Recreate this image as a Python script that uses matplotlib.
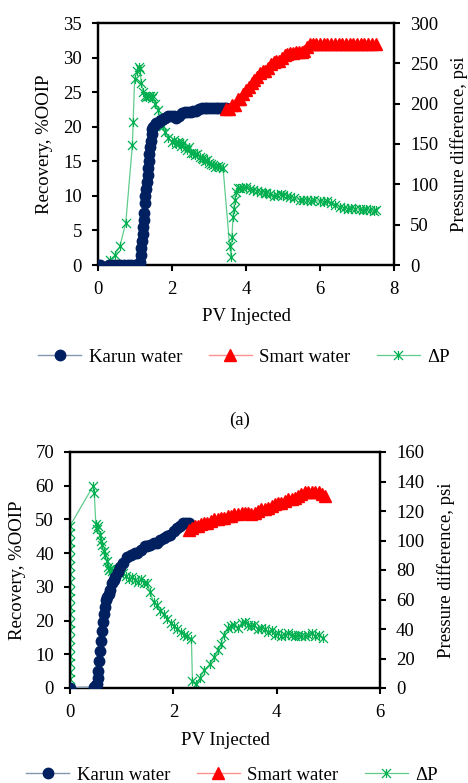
import matplotlib
matplotlib.use("Agg")
import matplotlib.pyplot as plt
from matplotlib.path import Path

plt.rcParams['font.family'] = ['Liberation Serif', 'DejaVu Serif']
plt.rcParams['font.size'] = 13.5

# ---- (a) top chart data ----
karun_a_x = [0, 0.05, 0.3, 0.4, 0.5, 0.6, 0.7, 0.8, 0.9, 1.0, 1.08, 1.13, 1.15, 1.17, 1.19, 1.21, 1.22, 1.24, 1.25, 1.27,
             1.28, 1.3, 1.32, 1.34, 1.36, 1.37, 1.39, 1.41, 1.43, 1.45, 1.47, 1.49, 1.53, 1.58, 1.64, 1.7, 1.76, 1.82, 1.9, 1.97,
             2.05, 2.12, 2.2, 2.27, 2.35, 2.42, 2.5, 2.58, 2.65, 2.72, 2.8, 2.88, 2.95, 3.03, 3.1, 3.18, 3.25, 3.33, 3.4, 3.47]
karun_a_y = [0, 0, 0, 0, 0, 0, 0, 0, 0, 0, 0, 0.5, 1.5, 2.5, 3.5, 4.5, 5.5, 6.5, 7.5, 9,
             10, 11, 12, 13, 14, 15, 16, 17, 18, 19, 19.7, 20, 20.3, 20.5, 20.7, 20.9, 21.1, 21.3, 21.5, 21.5,
             21.5, 21.2, 21.6, 22, 22.1, 22.2, 22.2, 22.3, 22.3, 22.5, 22.7, 22.7, 22.7, 22.7, 22.7, 22.7, 22.7, 22.7, 22.7, 22.7]

smart_a_x = [3.47, 3.55, 3.62, 3.7, 3.78, 3.85, 3.92, 4.0, 4.08, 4.15, 4.22, 4.3, 4.38, 4.45, 4.52, 4.6, 4.68, 4.75, 4.82, 4.9,
             4.98, 5.05, 5.12, 5.2, 5.28, 5.35, 5.42, 5.5, 5.58, 5.65, 5.72, 5.8, 5.9, 6.0, 6.1, 6.2, 6.3, 6.4, 6.5, 6.6,
             6.7, 6.8, 6.9, 7.0, 7.1, 7.2, 7.3, 7.4, 7.52]
smart_a_y = [22.5, 22.5, 23.2, 23.2, 24, 24, 24.8, 25.3, 25.8, 26.3, 26.8, 27.2, 27.7, 28, 28, 28.5, 29, 29.3, 29.5, 29.5,
             30, 30.3, 30.5, 30.7, 30.7, 30.8, 30.8, 30.8, 31, 31.5, 32, 32, 32, 32, 32, 32, 32, 32, 32, 32,
             32, 32, 32, 32, 32, 32, 32, 32, 32]

dp_a_x = [0, 0.32, 0.45, 0.59, 0.75, 0.93, 0.95, 0.99, 1.05, 1.1, 1.13, 1.17, 1.22, 1.26, 1.3, 1.35, 1.4, 1.45, 1.49, 1.55,
          1.62, 1.7, 1.76, 1.82, 1.9, 2.0, 2.05, 2.1, 2.15, 2.2, 2.25, 2.3, 2.35, 2.4, 2.45, 2.5, 2.57, 2.62, 2.68, 2.75,
          2.8, 2.84, 2.9, 2.95, 3.0, 3.05, 3.11, 3.17, 3.23, 3.3, 3.38, 3.56, 3.6, 3.62, 3.65, 3.67, 3.69, 3.73, 3.78, 3.85,
          3.92, 4.0, 4.1, 4.2, 4.3, 4.4, 4.5, 4.55, 4.65, 4.75, 4.85, 4.95, 5.0, 5.1, 5.2, 5.3, 5.45, 5.55, 5.65, 5.75,
          5.85, 6.0, 6.1, 6.2, 6.3, 6.4, 6.53, 6.65, 6.75, 6.85, 6.95, 7.07, 7.15, 7.25, 7.35, 7.45, 7.52]
dp_a_y = [0, 6, 12, 23, 52, 149, 177, 230, 240, 246, 243, 225, 215, 209, 208, 210, 209, 207, 209, 200,
          192, 180, 172, 165, 158, 153, 155, 150, 152, 151, 148, 151, 145, 143, 146, 139, 139, 136, 137, 134,
          133, 132, 129, 130, 127, 125, 124, 122, 123, 121, 120, 23, 10, 35, 60, 70, 81, 90, 95, 96,
          96, 97, 94, 93, 92, 90, 89, 89, 88, 86, 87, 88, 87, 86, 84, 83, 81, 80, 81, 79,
          80, 79, 78, 79, 77, 75, 72, 71, 70, 71, 70, 69, 68, 69, 68, 67, 68]

# ---- (b) bottom chart data ----
karun_b_x = [0, 0.47, 0.5, 0.52, 0.54, 0.55, 0.57, 0.58, 0.6, 0.62, 0.63, 0.65, 0.67, 0.7, 0.72, 0.75, 0.78, 0.82, 0.85, 0.88,
             0.92, 0.97, 1.02, 1.1, 1.18, 1.25, 1.3, 1.38, 1.45, 1.49, 1.55, 1.62, 1.69, 1.75, 1.82, 1.88, 1.94, 2.01, 2.07, 2.12,
             2.18, 2.25, 2.31]
karun_b_y = [0, 0.3, 0.8, 1.3, 3, 5, 8, 11, 14, 17, 19.5, 22, 24, 26, 27, 28, 29, 31, 32, 33,
             34.5, 36, 37, 39, 39.5, 40, 40, 41, 42, 42, 42.5, 43, 43, 44, 44.5, 45, 45.5, 46.5, 47.5, 48,
             49, 49, 49]

smart_b_x = [2.31, 2.36, 2.42, 2.48, 2.53, 2.6, 2.66, 2.72, 2.79, 2.86, 2.92, 2.98, 3.05, 3.12, 3.18, 3.25, 3.32, 3.38, 3.45, 3.51,
             3.58, 3.64, 3.7, 3.77, 3.83, 3.9, 3.96, 4.03, 4.09, 4.16, 4.22, 4.29, 4.35, 4.42, 4.48, 4.55, 4.61, 4.68, 4.74, 4.81,
             4.87, 4.93]
smart_b_y = [47, 47.5, 48, 48, 48.5, 49, 49, 49.5, 50, 50, 50.5, 50.5, 51, 51, 51.5, 51.5, 52, 52, 52, 51.5,
             52, 52.5, 53, 53, 53.5, 54, 54.5, 55, 55, 55.5, 56, 56, 56.5, 57, 57.5, 58, 58, 58, 58, 58,
             57.5, 57]

dp_b_x = [0, 0, 0, 0, 0, 0, 0, 0, 0, 0, 0, 0, 0, 0, 0, 0, 0, 0, 0, 0, 0,
          0.45, 0.47, 0.5, 0.52, 0.55, 0.58, 0.6, 0.62, 0.65, 0.68, 0.71, 0.73, 0.75, 0.78, 0.82, 0.86, 0.91, 0.96, 1.02, 1.08,
          1.14, 1.2, 1.26, 1.32, 1.38, 1.44, 1.49, 1.55, 1.62, 1.68, 1.75, 1.82, 1.88, 1.95, 2.01, 2.08, 2.14, 2.2, 2.27, 2.35,
          2.37, 2.44, 2.52, 2.6, 2.7, 2.79, 2.86, 2.92, 2.98, 3.05, 3.12, 3.18, 3.25, 3.32, 3.38, 3.44, 3.5, 3.57, 3.63, 3.7,
          3.77, 3.83, 3.9, 3.96, 4.03, 4.09, 4.16, 4.22, 4.29, 4.35, 4.42, 4.48, 4.55, 4.61, 4.68, 4.74, 4.81, 4.9]
dp_b_y = [0, 6, 11, 17, 22, 28, 33, 39, 44, 50, 55, 61, 66, 72, 77, 83, 88, 94, 99, 105, 110,
          137, 132, 111, 108, 110, 104, 100, 97, 93, 90, 86, 82, 80, 81, 79, 80, 80, 77, 78, 76,
          74, 75, 73, 72, 74, 71, 71, 65, 58, 56, 52, 50, 47, 44, 42, 40, 38, 36, 35, 33,
          5, 3, 7, 12, 16, 21, 26, 30, 36, 41, 42, 43, 41, 44, 45, 43, 42, 43, 40, 41,
          40, 38, 39, 36, 37, 35, 36, 37, 36, 35, 36, 35, 35, 36, 37, 35, 36, 34]

series_names = ['Karun water', 'Smart water', '\u0394P']

# colours
navy = '#002060'
navy_line = '#8497B0'
red = '#FF0000'
red_line = '#FF9090'
green = '#00B050'
green_line = '#60CC8C'

# asterisk marker (x with vertical stroke), like excel's star
star = Path([(-1, -1), (1, 1), (-1, 1), (1, -1), (0, -1), (0, 1)],
            [Path.MOVETO, Path.LINETO, Path.MOVETO, Path.LINETO, Path.MOVETO, Path.LINETO])


def draw_panel(rect, kx, ky, sx, sy, dx, dy, xlim, xticks, ylim, yticks, y2lim, y2ticks, ylab_pos, y2lab_pos, xlab_pos):
    ax = fig.add_axes(rect)
    ax2 = ax.twinx()
    h1, = ax.plot(kx, ky, color=navy_line, lw=1, marker='o', ms=7.5,
                  mfc=navy, mec=navy, zorder=3)
    h2, = ax.plot(sx, sy, color=red_line, lw=1, marker='^', ms=8,
                  mfc=red, mec=red, zorder=3)
    h3, = ax2.plot(dx, dy, color=green_line, lw=0.9, marker=star, ms=6.5,
                   mfc='none', mec=green, mew=0.9, zorder=2)
    ax.set_zorder(ax2.get_zorder() + 1)
    ax.patch.set_visible(False)

    ax.set_xlim(xlim)
    ax.set_xticks(xticks)
    ax.set_ylim(ylim)
    ax.set_yticks(yticks)
    ax2.set_ylim(y2lim)
    ax2.set_yticks(y2ticks)

    for a in (ax, ax2):
        for s in a.spines.values():
            s.set_linewidth(1.6)
        a.tick_params(direction='out', length=4.5, width=1.5, labelsize=13.5, pad=7)

    ax.set_xlabel('PV Injected', fontsize=13.5)
    ax.set_ylabel('Recovery, %OOIP', fontsize=13.5)
    ax2.set_ylabel('Pressure difference, psi', fontsize=13.5)
    ax.xaxis.set_label_coords(0.5, xlab_pos)
    ax.yaxis.set_label_coords(ylab_pos, 0.5)
    ax2.yaxis.set_label_coords(y2lab_pos, 0.5)
    return [h1, h2, h3]


fig = plt.figure(figsize=(4.68, 7.83), dpi=100)

handles = draw_panel([98 / 468, 1 - 265 / 783, 296 / 468, 242 / 783],
                     karun_a_x, karun_a_y, smart_a_x, smart_a_y, dp_a_x, dp_a_y,
                     (0, 8), [0, 2, 4, 6, 8], (0, 35), [0, 5, 10, 15, 20, 25, 30, 35],
                     (0, 300), [0, 50, 100, 150, 200, 250, 300], -0.152, 1.188, -0.178)
fig.legend(handles, series_names, loc='center', bbox_to_anchor=(244 / 468, 1 - 357 / 783),
           ncol=3, frameon=False, fontsize=13.5, handlelength=2.3, columnspacing=1.4, handletextpad=0.4)

fig.text(240 / 468, 1 - 420 / 783, '(a)', ha='center', va='center', fontsize=13.5)

handles = draw_panel([70 / 468, 1 - 688 / 783, 310 / 468, 236 / 783],
                     karun_b_x, karun_b_y, smart_b_x, smart_b_y, dp_b_x, dp_b_y,
                     (0, 6), [0, 2, 4, 6], (0, 70), [0, 10, 20, 30, 40, 50, 60, 70],
                     (0, 160), [0, 20, 40, 60, 80, 100, 120, 140, 160], -0.142, 1.184, -0.186)
fig.legend(handles, series_names, loc='center', bbox_to_anchor=(232 / 468, 1 - 775 / 783),
           ncol=3, frameon=False, fontsize=13.5, handlelength=2.3, columnspacing=1.4, handletextpad=0.4)

fig.savefig('out.png', dpi=100)
